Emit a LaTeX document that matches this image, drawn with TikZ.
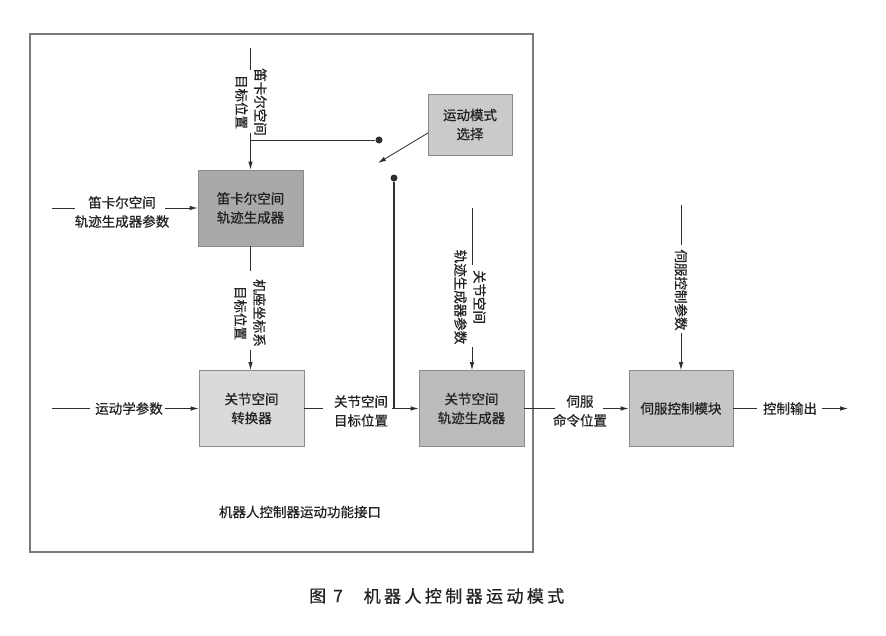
\documentclass[tikz,border=0pt]{standalone}
\usepackage{fontspec}
\setmainfont{Noto Sans CJK SC}[FakeBold=0.7]
\usetikzlibrary{arrows.meta}
\definecolor{ln}{HTML}{2E2E2E}
\definecolor{txt}{HTML}{222222}
\definecolor{frame}{HTML}{7A7A7A}
\definecolor{bord}{HTML}{8A8A8A}
\definecolor{fA}{HTML}{A9A9A9}
\definecolor{fB}{HTML}{DADADA}
\definecolor{fM}{HTML}{CACACA}
\definecolor{fC}{HTML}{BBBBBB}
\definecolor{fD}{HTML}{C6C6C6}
\newcommand\dfont{\fontsize{13.5}{19}\selectfont}
\begin{document}
\begin{tikzpicture}[x=1pt,y=-1pt,
  box/.style={draw=bord, line width=0.7pt, minimum width=105pt, minimum height=76pt, inner sep=0pt, align=center, font=\dfont, text=txt},
  lbl/.style={inner sep=0pt, align=center, font=\dfont, text=txt},
  vlbl/.style={lbl, rotate=-90},
  conn/.style={draw=ln, line width=0.8pt},
  arr/.style={conn, -{Latex[length=8pt,width=4.5pt]}},
  dotn/.style={circle, fill=ln, inner sep=0pt, minimum size=7pt}]
\useasboundingbox (0,0) rectangle (886,635);
% frame
\draw[frame, line width=1.5pt] (30,34) rectangle (533,552);
% boxes
\node[box, fill=fA] (b1) at (250.5,208) {笛卡尔空间\\轨迹生成器};
\node[box, fill=fB] (b2) at (251.5,408.5) {关节空间\\转换器};
\node[box, fill=fM, minimum width=84pt, minimum height=61pt] (mode) at (470,124.5) {运动模式\\选择};
\node[box, fill=fC] (b3) at (471.5,408.5) {关节空间\\轨迹生成器};
\node[box, fill=fD, minimum width=104pt] (b4) at (681,408.5) {伺服控制模块};
% top input to b1
\coordinate (t1) at (250.5,48);
\coordinate (t1a) at (250.5,70);
\coordinate (t1b) at (250.5,133);
\node[vlbl] (l1) at (251,102) {笛卡尔空间\\目标位置};
\draw[conn] (t1) -- (t1a);
\draw[arr] (t1b) -- (b1.north);
\node[dotn] (d1) at (379,140) {};
\draw[conn] (b1.north |- d1) -- (d1);
% switch
\node[dotn] (d2) at (394,178) {};
\coordinate (mout) at (428,133);
\coordinate (sw) at (378,163);
\draw[arr] (mout) -- (sw);
% left input to b1
\coordinate (i1) at (52,208);
\coordinate (i1a) at (75,208);
\coordinate (i1b) at (165,208);
\node[lbl] (l2) at (122,212) {笛卡尔空间\\轨迹生成器参数};
\draw[conn] (i1) -- (i1a);
\draw[arr] (i1b) -- (b1.west |- i1b);
% b1 to b2
\node[vlbl] (l3) at (250,313) {机座坐标系\\目标位置};
\coordinate (m1a) at (250.5,271);
\coordinate (m1b) at (250.5,350);
\draw[conn] (b1.south) -- (m1a);
\draw[arr] (m1b) -- (b1.south |- b2.north);
% kinematic params
\coordinate (i2) at (52,408.5);
\coordinate (i2a) at (90,408.5);
\coordinate (i2b) at (165,408.5);
\node[lbl] (l4) at (129,408.5) {运动学参数};
\draw[conn] (i2) -- (i2a);
\draw[arr] (i2b) -- (b2.west);
% b2 to b3
\node[lbl] (l5) at (361,411) {关节空间\\目标位置};
\coordinate (j1) at (323,408.5);
\coordinate (j2) at (392,408.5);
\draw[conn] (b2.east) -- (j1);
\draw[arr] (j2) -- (b3.west);
\draw[conn, line width=1.3pt] (d2) -- (d2 |- b3.west);
% b3 top input
\coordinate (t3) at (472,208);
\coordinate (t3a) at (472,265);
\coordinate (t3b) at (472,347);
\node[vlbl] (l6) at (470,297) {关节空间\\轨迹生成器参数};
\draw[conn] (t3) -- (t3a);
\draw[arr] (t3b) -- (t3b |- b3.north);
% b3 to b4
\node[lbl] (l7) at (580,411) {伺服\\命令位置};
\coordinate (k1) at (555,408.5);
\coordinate (k2) at (603,408.5);
\draw[conn] (b3.east) -- (k1);
\draw[arr] (k2) -- (b4.west);
% b4 top input
\coordinate (t4) at (681,205);
\coordinate (t4a) at (681,245);
\coordinate (t4b) at (681,333);
\node[vlbl] (l8) at (681,290) {伺服控制参数};
\draw[conn] (t4) -- (t4a);
\draw[arr] (t4b) -- (b4.north);
% output
\coordinate (o1) at (757,408.5);
\coordinate (o2) at (822,408.5);
\coordinate (o3) at (848,408.5);
\node[lbl] (l9) at (790,408.5) {控制输出};
\draw[conn] (b4.east) -- (o1);
\draw[arr] (o2) -- (o3);
% interface label
\node[lbl] (ifc) at (300,512) {机器人控制器运动功能接口};
% caption
\node[inner sep=0pt, font=\fontsize{17}{20}\selectfont\addfontfeature{LetterSpace=20}, text=txt] (cap1) at (326,596) {图 7};
\node[inner sep=0pt, font=\fontsize{17}{20}\selectfont\addfontfeature{LetterSpace=20}, text=txt] (cap2) at (464,596) {机器人控制器运动模式};
\end{tikzpicture}
\end{document}
